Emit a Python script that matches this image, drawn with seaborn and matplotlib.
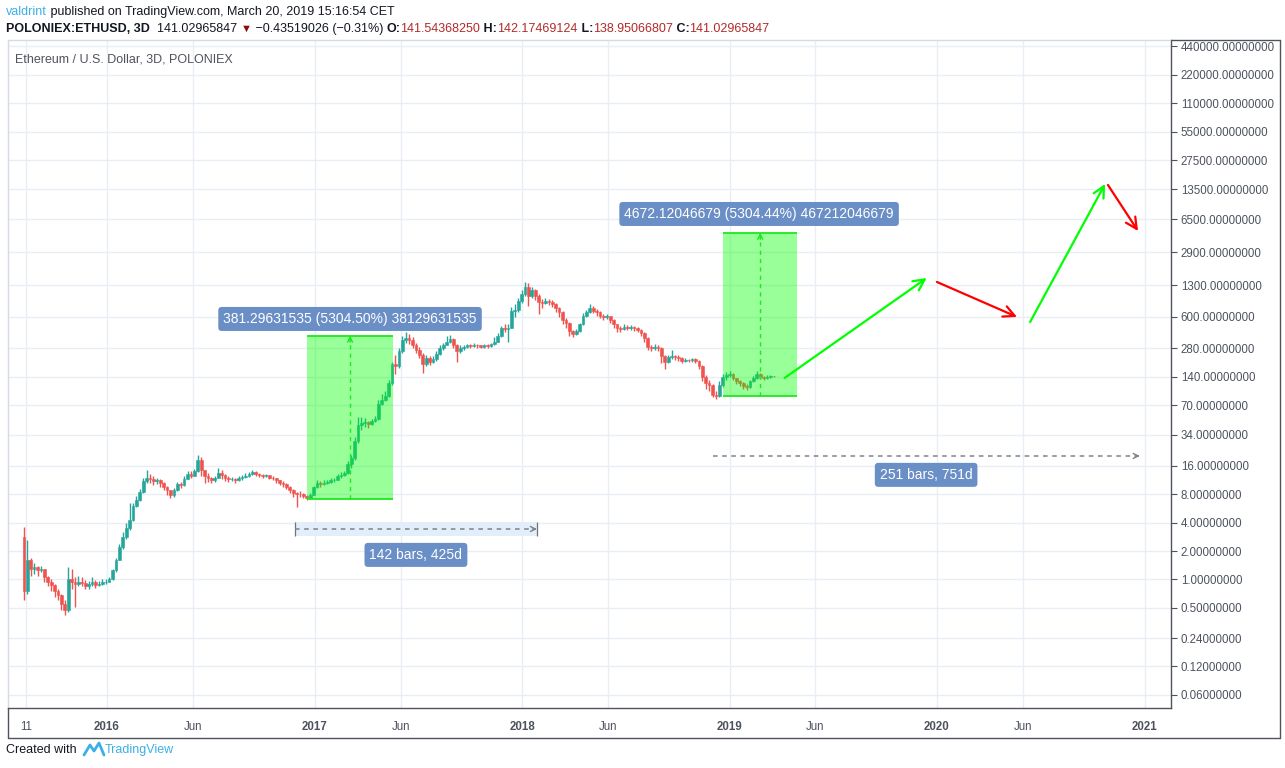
import numpy as np
import pandas as pd
import matplotlib
matplotlib.use("Agg")
import matplotlib.pyplot as plt
import matplotlib.dates as mdates
from matplotlib.lines import Line2D
from matplotlib.ticker import FixedLocator, NullLocator
import seaborn as sns

sns.set_style("white")
plt.rcParams["font.family"] = ["Liberation Sans", "DejaVu Sans"]

# ---------------- data (6-day candles, POLONIEX ETH/USD) ----------------
start_date = "2015-08-08"
bar_freq = "6D"
first_open = 2.8
closes = [
    0.75, 1.6, 1.3, 1.35, 1.25, 1.3, 1.05, 0.95, 0.88, 0.75,
    0.68, 0.55, 0.48, 1.0, 0.95, 0.9, 0.95, 0.92, 0.85, 0.9,
    0.95, 0.88, 0.9, 0.93, 0.95, 1.0, 1.25, 1.6, 2.2, 2.8,
    3.5, 4.3, 6.0, 7.0, 8.5, 11, 12, 11.5, 11, 11.2,
    10.5, 9.5, 8.8, 7.8, 8.8, 10.2, 10.0, 11.5, 13, 12.5,
    14, 18.5, 14.5, 12.5, 11.8, 11.2, 12, 13.5, 12.8, 11.8,
    11.5, 11.6, 11.2, 11.8, 12.2, 12.5, 13.2, 13.8, 13, 12.8,
    12.5, 12.8, 12, 11.8, 11.2, 10.6, 10.2, 9.6, 8.8, 8.2,
    8.1, 8.0, 7.6, 7.2, 7.8, 9.5, 10.5, 10.2, 10.6, 10.8,
    11.2, 11.4, 12.4, 12.8, 13.5, 16.5, 19.5, 29, 43, 45,
    46, 44, 47, 50, 72, 80, 88, 120, 190, 180,
    260, 340, 360, 340, 300, 270, 240, 190, 220, 200,
    215, 245, 280, 300, 330, 350, 300, 260, 280, 290,
    300, 295, 305, 300, 290, 300, 295, 310, 330, 380,
    460, 450, 460, 700, 720, 880, 1050, 1250, 1000, 1150,
    1000, 870, 850, 880, 870, 820, 740, 680, 560, 520,
    430, 400, 430, 500, 620, 680, 750, 700, 680, 620,
    600, 610, 560, 500, 460, 450, 470, 460, 470, 460,
    440, 410, 360, 290, 280, 290, 280, 230, 200, 225,
    230, 225, 220, 205, 210, 208, 215, 205, 180, 140,
    120, 115, 90, 88, 115, 140, 145, 150, 135, 125,
    120, 112, 108, 125, 135, 150, 138, 135, 138, 141.5,
    141.03,
]
highs = [
    3.6, 2.6, 1.7, 1.5, 1.4, 1.4, 1.3, 1.1, 1.0, 0.9,
    0.8, 0.7, 0.6, 1.35, 1.3, 1.05, 1.1, 1.05, 0.98, 0.97,
    1.05, 0.98, 0.97, 1.0, 1.02, 1.05, 1.3, 1.7, 2.4, 3.2,
    4.0, 6.5, 6.5, 7.6, 9.0, 12, 14.5, 13, 12.5, 12,
    11.5, 10.8, 9.8, 8.9, 9.2, 10.8, 10.7, 12.5, 14.2, 14,
    14.8, 21, 20, 14.5, 13.5, 12.2, 12.5, 15, 14.5, 13,
    12.3, 12.2, 12, 12.3, 12.8, 13.3, 13.8, 14.5, 14.2, 13.5,
    13.2, 13.2, 12.9, 12.4, 12, 11.4, 10.9, 10.5, 9.8, 9,
    8.5, 8.6, 8.2, 7.9, 8.2, 9.8, 11.3, 11, 11.2, 11.4,
    11.8, 12, 13, 13.8, 14.2, 18, 21, 32, 52, 52,
    51, 48, 50, 54, 80, 92, 98, 130, 200, 235,
    280, 380, 420, 400, 365, 320, 290, 250, 235, 230,
    230, 260, 300, 320, 380, 390, 360, 310, 300, 305,
    310, 310, 315, 312, 305, 310, 310, 320, 370, 410,
    480, 500, 500, 760, 820, 950, 1150, 1420, 1380, 1250,
    1180, 1050, 930, 950, 930, 900, 840, 760, 690, 580,
    530, 440, 450, 520, 660, 720, 820, 780, 730, 700,
    640, 640, 620, 570, 510, 480, 500, 490, 490, 480,
    470, 450, 420, 370, 300, 310, 300, 290, 240, 235,
    270, 240, 235, 225, 220, 218, 222, 220, 212, 185,
    145, 130, 118, 98, 125, 150, 158, 160, 152, 137,
    128, 122, 118, 130, 142, 160, 155, 142, 145, 146,
    142.17,
]
lows = [
    0.6, 0.7, 1.1, 1.15, 1.1, 1.2, 0.95, 0.85, 0.75, 0.65,
    0.6, 0.47, 0.42, 0.45, 0.8, 0.51, 0.85, 0.85, 0.8, 0.8,
    0.85, 0.82, 0.85, 0.88, 0.9, 0.93, 0.98, 1.2, 1.6, 2.1,
    2.7, 3.3, 4.2, 5.8, 6.8, 8.3, 10.5, 10.5, 10, 10.3,
    9.5, 8.8, 7.8, 7.2, 7.5, 8.6, 9.3, 9.8, 11.5, 11.8,
    12.5, 13.8, 12.5, 10.5, 10.8, 10.5, 10.8, 11.8, 11.5, 11,
    10.8, 11, 10.6, 11, 11.4, 11.8, 12.2, 12.8, 12.5, 12.2,
    12, 12.1, 11.5, 11.2, 10.5, 10, 9.6, 9, 8.3, 7.5,
    5.9, 7.5, 7.2, 6.9, 7.1, 7.8, 9.4, 9.6, 10, 10.2,
    10.5, 10.8, 11.2, 12, 12.5, 13.2, 15, 18.5, 28, 38,
    41, 40, 43, 46, 49, 70, 78, 86, 115, 150,
    175, 250, 320, 310, 280, 250, 220, 155, 180, 185,
    195, 205, 240, 270, 300, 320, 280, 200, 250, 270,
    280, 285, 290, 285, 280, 280, 280, 290, 305, 330,
    370, 420, 330, 460, 600, 680, 850, 1000, 780, 950,
    900, 650, 750, 820, 800, 760, 680, 600, 510, 460,
    380, 370, 390, 420, 490, 600, 660, 660, 620, 580,
    560, 570, 520, 460, 420, 420, 440, 440, 440, 430,
    420, 380, 330, 270, 260, 270, 260, 195, 170, 195,
    215, 210, 205, 195, 198, 198, 200, 195, 170, 125,
    105, 100, 85, 82, 86, 110, 130, 140, 128, 118,
    112, 105, 102, 106, 122, 132, 132, 128, 132, 135,
    138.95,
]

price_ticks = [440000, 220000, 110000, 55000, 27500, 13500, 6500, 2900, 1300,
               600, 280, 140, 70, 34, 16, 8, 4, 2, 1, 0.5, 0.24, 0.12, 0.06]
time_ticks = ["2015-08-11", "2016-01-01", "2016-06-01", "2017-01-01", "2017-06-01",
              "2018-01-01", "2018-06-01", "2019-01-01", "2019-06-01", "2020-01-01",
              "2020-06-01", "2021-01-01"]
time_labels = ["11", "2016", "Jun", "2017", "Jun", "2018", "Jun", "2019", "Jun",
               "2020", "Jun", "2021"]
x_range = ["2015-07-11", "2021-02-16"]
y_range = [0.0436, 513000]

# prediction (price range) boxes
box_starts = ["2016-12-18", "2018-12-20"]
box_ends = ["2017-05-19", "2019-04-30"]
box_mids = ["2017-03-04", "2019-02-24"]
box_bottoms = [7.055, 86.45]
box_tops = [381.29631535, 4672.12046679]
box_labels = ["381.29631535 (5304.50%) 38129631535",
              "4672.12046679 (5304.44%) 467212046679"]
box_label_dates = ["2017-03-04", "2019-02-22"]
box_label_prices = [572, 7390]

# forecast arrows
arrow_start_dates = ["2019-04-08", "2020-01-01", "2020-06-13", "2020-10-28"]
arrow_start_prices = [136, 1409, 531, 14980]
arrow_end_dates = ["2019-12-14", "2020-05-21", "2020-10-23", "2020-12-20"]
arrow_end_prices = [1553, 601, 15350, 4880]
arrow_colors = ["#00ff00", "#ff0000", "#00ff00", "#ff0000"]

# date ranges
range_starts = ["2016-11-28", "2018-12-03"]
range_ends = ["2018-01-27", "2020-12-23"]
range_prices = [3.42, 20.3]
range_labels = ["142 bars, 425d", "251 bars, 751d"]
range_label_dates = ["2017-06-28", "2019-12-13"]
range_label_prices = [1.82, 12.8]
range_band = [2.89, 4.06]

# ---------------- figure ----------------
W, H = 1285, 768
fig = plt.figure(figsize=(W / 100, H / 100), dpi=100)
fig.patch.set_facecolor("white")


def fx(px):
    return px / W


def fy(py):
    return 1 - py / H


L, R, T, B = 8, 1171, 40, 708
ax = fig.add_axes([fx(L), fy(B), fx(R) - fx(L), fy(T) - fy(B)])
ax.set_facecolor("white")

d2n = lambda s: mdates.date2num(pd.Timestamp(s))

dates = pd.date_range(start_date, periods=len(closes), freq=bar_freq)
xs = mdates.date2num(dates)
opens = [first_open] + closes[:-1]
df = pd.DataFrame({"x": xs, "open": opens, "close": closes, "high": highs, "low": lows})
df["high"] = df[["high", "open", "close"]].max(axis=1)
df["low"] = df[["low", "open", "close"]].min(axis=1)
df["up"] = df["close"] >= df["open"]
up_c, dn_c = "#26a69a", "#ef5350"
cols = np.where(df["up"], up_c, dn_c)

ax.vlines(df["x"], df["low"], df["high"], colors=cols, lw=1.0, zorder=2)
body_lo = df[["open", "close"]].min(axis=1)
body_hi = df[["open", "close"]].max(axis=1)
ax.bar(df["x"], body_hi - body_lo, bottom=body_lo, width=4.8, color=cols,
       edgecolor=cols, linewidth=0.4, zorder=2.1)

ax.set_yscale("log")
ax.set_xlim(d2n(x_range[0]), d2n(x_range[1]))
ax.set_ylim(*y_range)

# ticks
ax.yaxis.tick_right()
ax.yaxis.set_major_locator(FixedLocator(price_ticks))
ax.yaxis.set_minor_locator(NullLocator())
ax.set_yticklabels([f"{v:.8f}" for v in price_ticks])
ax.set_xticks([d2n(t) for t in time_ticks])
ax.set_xticklabels(time_labels)
ax.tick_params(axis="y", which="major", length=4, width=0.8, color="#50535e",
               labelsize=8.3, labelcolor="#4c525e", pad=3, direction="out")
ax.tick_params(axis="x", which="major", length=4, width=0.8, color="#50535e",
               labelsize=8.3, labelcolor="#4c525e", pad=5, direction="out")
for lab in ax.get_xticklabels():
    if lab.get_text().isdigit() and len(lab.get_text()) == 4:
        lab.set_fontweight("bold")
ax.grid(True, which="major", color="#e9eef5", lw=1, zorder=0)
ax.set_axisbelow(True)
for s in ["left", "top"]:
    ax.spines[s].set_color("#d5dbe3")
    ax.spines[s].set_linewidth(1)
for s in ["right", "bottom"]:
    ax.spines[s].set_color("#50535e")
    ax.spines[s].set_linewidth(1)

label_box = dict(boxstyle="round,pad=0.36,rounding_size=0.25", fc="#6a8ec6", ec="none")

# date-range band + dashed measures
for i in range(2):
    x0, x1 = d2n(range_starts[i]), d2n(range_ends[i])
    if i == 0:
        ax.fill_between([x0, x1], range_band[0], range_band[1], color="#e3eefb",
                        lw=0, zorder=1.5)
        ax.vlines([x0, x1], range_band[0], range_band[1], colors="#6e7480", lw=0.9,
                  zorder=1.6)
    ax.plot([x0, x1 - 2], [range_prices[i]] * 2, ls=(0, (3, 3)), color="#7d828c",
            lw=1.1, zorder=1.7)
    ax.annotate("", xy=(x1, range_prices[i]), xytext=(x1 - 8, range_prices[i]),
                arrowprops=dict(arrowstyle="->", color="#7d828c", lw=1.0,
                                mutation_scale=9, shrinkA=0, shrinkB=0), zorder=1.7)
    ax.text(d2n(range_label_dates[i]), range_label_prices[i], range_labels[i],
            ha="center", va="center", color="white", fontsize=10, zorder=6,
            bbox=label_box)

# prediction boxes
for i in range(2):
    x0, x1, xm = d2n(box_starts[i]), d2n(box_ends[i]), d2n(box_mids[i])
    ax.fill_between([x0, x1], box_bottoms[i], box_tops[i], color="#00ff00",
                    alpha=0.4, lw=0, zorder=3)
    ax.hlines([box_bottoms[i], box_tops[i]], x0, x1, colors="#1ee81e", lw=1.3,
              zorder=3.1)
    ax.plot([xm, xm], [box_bottoms[i], box_tops[i] * 0.97], ls=(0, (3, 3)),
            color="#1ee81e", lw=1.0, zorder=3.2)
    ax.annotate("", xy=(xm, box_tops[i]), xytext=(xm, box_tops[i] * 0.85),
                arrowprops=dict(arrowstyle="->", color="#1ee81e", lw=1.0,
                                mutation_scale=9, shrinkA=0, shrinkB=0), zorder=3.2)
    ax.text(d2n(box_label_dates[i]), box_label_prices[i], box_labels[i],
            ha="center", va="center", color="white", fontsize=10, zorder=6,
            bbox=label_box)

# forecast arrows
for i in range(4):
    ax.annotate("", xy=(d2n(arrow_end_dates[i]), arrow_end_prices[i]),
                xytext=(d2n(arrow_start_dates[i]), arrow_start_prices[i]),
                arrowprops=dict(arrowstyle="->", color=arrow_colors[i], lw=1.6,
                                mutation_scale=20, shrinkA=0, shrinkB=0), zorder=4)

# outer frame around the axis areas
frame_c = "#50535e"
for (xa, ya, xb, yb) in [(R, T, 1280, T), (1280, T, 1280, 738), (L, 738, 1280, 738),
                          (L, B, L, 738)]:
    fig.add_artist(Line2D([fx(xa), fx(xb)], [fy(ya), fy(yb)], color=frame_c, lw=1))

# chart title inside pane
fig.text(fx(15), fy(60), "Ethereum / U.S. Dollar, 3D, POLONIEX", fontsize=9,
         color="#4f535c", va="center", ha="left")

# header lines (sequential segments)
fig.canvas.draw()
renderer = fig.canvas.get_renderer()


def seg_line(x_px, y_px, segs):
    x = x_px
    for txt, col, wt, fs in segs:
        t = fig.text(fx(x), fy(y_px), txt, color=col, fontweight=wt, fontsize=fs,
                     va="center", ha="left")
        bb = t.get_window_extent(renderer=renderer)
        x += bb.width


red = "#b22a2a"
blk = "#131722"
seg_line(6, 12, [("valdrint", "#3bb0e6", "normal", 9),
                 (" published on TradingView.com, March 20, 2019 15:16:54 CET", blk,
                  "normal", 9)])
seg_line(6, 29, [("POLONIEX:ETHUSD, 3D", blk, "bold", 9),
                 ("  141.02965847 ", blk, "normal", 9),
                 ("\u25bc", "#8b0e0e", "normal", 8),
                 (" \u22120.43519026 (\u22120.31%) ", blk, "normal", 9),
                 ("O:", blk, "bold", 9), ("141.54368250", red, "normal", 9),
                 (" H:", blk, "bold", 9), ("142.17469124", red, "normal", 9),
                 (" L:", blk, "bold", 9), ("138.95066807", red, "normal", 9),
                 (" C:", blk, "bold", 9), ("141.02965847", red, "normal", 9)])

# footer
fig.text(fx(6), fy(750), "Created with", fontsize=9, color=blk, va="center")
fig.add_artist(Line2D([fx(84), fx(90), fx(94), fx(99), fx(104)],
                      [fy(755), fy(745), fy(751), fy(743), fy(755)],
                      color="#3bb0e6", lw=2))
fig.text(fx(105), fy(750), "TradingView", fontsize=9, color="#3bb0e6", va="center")

fig.savefig("out.png", dpi=100, facecolor="white")
